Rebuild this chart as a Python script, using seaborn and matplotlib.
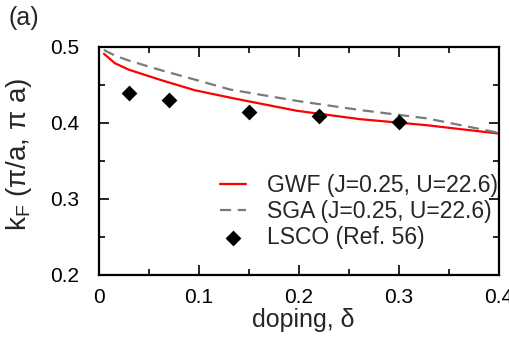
import matplotlib
matplotlib.use("Agg")
import matplotlib.pyplot as plt
import seaborn as sns
import pandas as pd
from matplotlib.ticker import MultipleLocator

# Data
doping_gwf = [0.005, 0.016, 0.03, 0.063, 0.096, 0.136, 0.198, 0.261, 0.328, 0.4]
kF_gwf = [0.491, 0.4785, 0.470, 0.456, 0.443, 0.432, 0.416, 0.405, 0.397, 0.386]
doping_sga = [0.005, 0.016, 0.03, 0.063, 0.096, 0.131, 0.198, 0.261, 0.328, 0.4]
kF_sga = [0.496, 0.4886, 0.482, 0.469, 0.457, 0.444, 0.429, 0.417, 0.406, 0.387]
doping_lsco = [0.03, 0.07, 0.15, 0.22, 0.30]
kF_lsco = [0.439, 0.430, 0.415, 0.409, 0.401]

label_gwf = "GWF (J=0.25, U=22.6)"
label_sga = "SGA (J=0.25, U=22.6)"
label_lsco = "LSCO (Ref. 56)"
xticks = [0, 0.1, 0.2, 0.3, 0.4]
xticklabels = ["0", "0.1", "0.2", "0.3", "0.4"]
yticks = [0.2, 0.3, 0.4, 0.5]
yticklabels = ["0.2", "0.3", "0.4", "0.5"]

sns.set_style("ticks")
plt.rcParams['font.family'] = ['Liberation Sans', 'DejaVu Sans']
plt.rcParams['mathtext.fontset'] = 'custom'
plt.rcParams['mathtext.rm'] = 'Liberation Sans'
plt.rcParams['mathtext.it'] = 'Liberation Sans'

fig = plt.figure(figsize=(5.1, 3.45), dpi=100)
ax = fig.add_axes([0.194, 0.203, 0.784, 0.661])

df_gwf = pd.DataFrame({"x": doping_gwf, "y": kF_gwf})
df_sga = pd.DataFrame({"x": doping_sga, "y": kF_sga})
df_lsco = pd.DataFrame({"x": doping_lsco, "y": kF_lsco})

sns.lineplot(data=df_gwf, x="x", y="y", ax=ax, color="#ff0000", lw=1.6,
             label=label_gwf, sort=False)
sns.lineplot(data=df_sga, x="x", y="y", ax=ax, color="#7a7a7a", lw=1.6,
             label=label_sga, sort=False)
ax.lines[-1].set_dashes([5, 3])
sns.scatterplot(data=df_lsco, x="x", y="y", ax=ax, marker="D", s=65,
                color="black", linewidth=0, label=label_lsco, zorder=5)

ax.set_xlim(0, 0.4)
ax.set_ylim(0.2, 0.5)
ax.set_xticks(xticks)
ax.set_xticklabels(xticklabels)
ax.set_yticks(yticks)
ax.set_yticklabels(yticklabels)
ax.xaxis.set_minor_locator(MultipleLocator(0.05))
ax.yaxis.set_minor_locator(MultipleLocator(0.05))
ax.tick_params(which="both", direction="in", top=True, right=True,
               labelsize=15, colors="black", width=1.2)
ax.tick_params(which="major", length=7)
ax.tick_params(axis="x", which="major", pad=9.5)
ax.tick_params(axis="y", which="major", pad=14)
ax.tick_params(which="minor", length=4)
for sp in ax.spines.values():
    sp.set_linewidth(1.6)
    sp.set_color("black")

ax.set_xlabel("doping, δ", fontsize=18)
ax.set_ylabel(r"k$_{\rm F}$ (π/a, π a)", fontsize=20)
ax.xaxis.set_label_coords(0.51, -0.145)
ax.yaxis.set_label_coords(-0.163, 0.53)
fig.text(9 / 510, 1 - 6 / 345, "(a)", fontsize=18, va="top", ha="left")

leg = ax.legend(loc="lower right", frameon=False, fontsize=16.5,
                handlelength=1.15, handletextpad=0.9, labelspacing=0.12,
                borderpad=0, borderaxespad=0, bbox_to_anchor=(0.997, 0.115))

fig.savefig("out.png", dpi=100)
